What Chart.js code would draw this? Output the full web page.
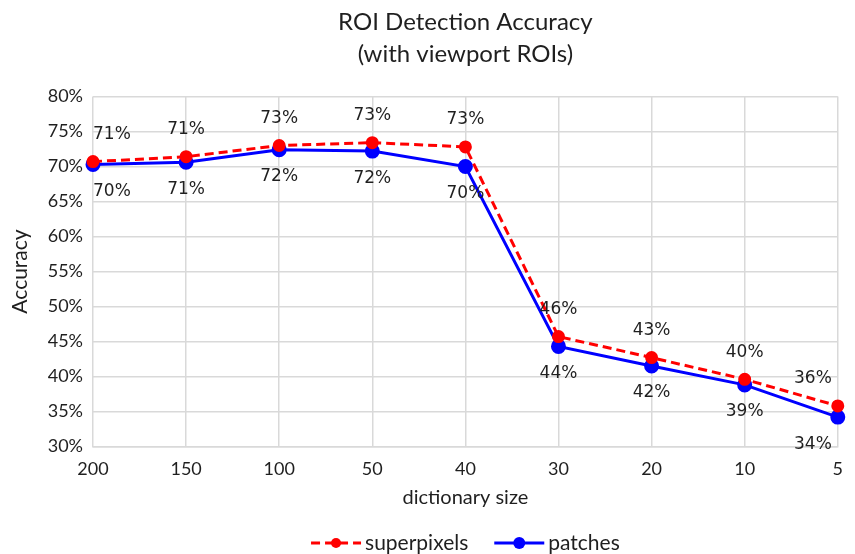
<!DOCTYPE html>
<html>
<head>
<meta charset="utf-8">
<script src="https://cdn.jsdelivr.net/npm/chart.js@4/dist/chart.umd.min.js"></script>
<style>
  html, body { margin: 0; padding: 0; background: #fff; }
  #wrap { width: 855px; height: 554px; }
</style>
</head>
<body>
<div id="wrap"><canvas id="roi-chart" width="855" height="554"></canvas></div>
<script>
const dictSizes = ['200', '150', '100', '50', '40', '30', '20', '10', '5'];
const superpixels = [70.7, 71.4, 73.0, 73.4, 72.8, 45.7, 42.7, 39.6, 35.8];
const patches = [70.3, 70.6, 72.4, 72.2, 70.0, 44.3, 41.5, 38.8, 34.2];
const titleLines = ['ROI Detection Accuracy', '(with viewport ROIs)'];

const TEXT = '#1f1f1f';
const SANS = 'Lato, "Open Sans", sans-serif';
const LABEL_FONT = '17px "DejaVu Sans", sans-serif';

// data labels: superpixels above, patches below
const pointLabels = {
  id: 'pointLabels',
  afterDatasetsDraw(chart) {
    const ctx = chart.ctx;
    const area = chart.chartArea;
    ctx.save();
    ctx.font = LABEL_FONT;
    ctx.fillStyle = TEXT;
    ctx.textBaseline = 'middle';
    ctx.textAlign = 'center';
    chart.data.datasets.forEach((ds, i) => {
      const meta = chart.getDatasetMeta(i);
      const dy = i === 0 ? -27 : 27;
      meta.data.forEach((pt, j) => {
        const txt = Math.round(ds.data[j]) + '%';
        const w = ctx.measureText(txt).width;
        let x = pt.x;
        x = Math.max(x, area.left + w / 2);
        x = Math.min(x, area.right - 6 - w / 2);
        ctx.fillText(txt, x, pt.y + dy);
      });
    });
    ctx.restore();
  }
};

// title, x-axis title and legend
const decorations = {
  id: 'decorations',
  afterDraw(chart) {
    const ctx = chart.ctx;
    const area = chart.chartArea;
    const cx = (area.left + area.right) / 2;
    ctx.save();
    ctx.fillStyle = TEXT;
    ctx.textAlign = 'center';
    ctx.textBaseline = 'middle';
    ctx.font = '24px ' + SANS;
    ctx.fillText(titleLines[0], cx, 22);
    ctx.fillText(titleLines[1], cx, 54);

    ctx.font = '20px ' + SANS;
    ctx.fillText('dictionary size', cx, 498);

    // legend
    const y = 543;
    const items = chart.data.datasets.map(ds => ({
      text: ds.label, color: ds.borderColor, dash: ds.borderDash || [], r: ds.pointRadius
    }));
    ctx.font = '21px ' + SANS;
    const lineW = 50, gap = 4, spacing = 26;
    const widths = items.map(it => lineW + gap + ctx.measureText(it.text).width);
    let x = cx - (widths.reduce((a, b) => a + b, 0) + spacing) / 2;
    items.forEach((it, k) => {
      ctx.strokeStyle = it.color;
      ctx.lineWidth = 3;
      ctx.setLineDash(it.dash);
      ctx.beginPath();
      ctx.moveTo(x, y);
      ctx.lineTo(x + lineW, y);
      ctx.stroke();
      ctx.setLineDash([]);
      ctx.fillStyle = it.color;
      ctx.beginPath();
      ctx.arc(x + lineW / 2, y, it.r, 0, Math.PI * 2);
      ctx.fill();
      ctx.fillStyle = TEXT;
      ctx.textAlign = 'left';
      ctx.fillText(it.text, x + lineW + gap, y);
      x += widths[k] + spacing;
    });
    ctx.restore();
  }
};

new Chart(document.getElementById('roi-chart'), {
  type: 'line',
  data: {
    labels: dictSizes,
    datasets: [
      {
        label: 'superpixels', data: superpixels,
        borderColor: '#ff0000', backgroundColor: '#ff0000',
        borderWidth: 3, borderDash: [9, 5], pointRadius: 5, pointHoverRadius: 5,
        tension: 0
      },
      {
        label: 'patches', data: patches,
        borderColor: '#0000ff', backgroundColor: '#0000ff',
        borderWidth: 3, pointRadius: 6, pointHoverRadius: 6,
        tension: 0
      }
    ]
  },
  options: {
    responsive: false,
    animation: false,
    layout: { padding: { top: 96.5, right: 11, bottom: 40, left: 0 } },
    plugins: {
      legend: { display: false },
      title: { display: false },
      tooltip: { enabled: false }
    },
    scales: {
      x: {
        offset: false,
        grid: { color: '#d9d9d9', lineWidth: 1.5, drawTicks: false },
        border: { color: '#d9d9d9', width: 1.5 },
        ticks: { color: TEXT, font: { family: SANS, size: 18 }, padding: 12, maxRotation: 0 },
        afterFit(scale) { scale.height = 67.5; }
      },
      y: {
        min: 30, max: 80,
        grid: { color: '#d9d9d9', lineWidth: 1.5, drawTicks: false },
        border: { display: false },
        ticks: {
          stepSize: 5, color: TEXT, font: { family: SANS, size: 18 }, padding: 10,
          callback: v => v + '%'
        },
        title: {
          display: true, text: 'Accuracy', color: TEXT,
          font: { family: SANS, size: 21 }, padding: { top: 8, bottom: 0 }
        },
        afterFit(scale) { scale.width = 93; }
      }
    }
  },
  plugins: [pointLabels, decorations]
});
</script>
</body>
</html>
